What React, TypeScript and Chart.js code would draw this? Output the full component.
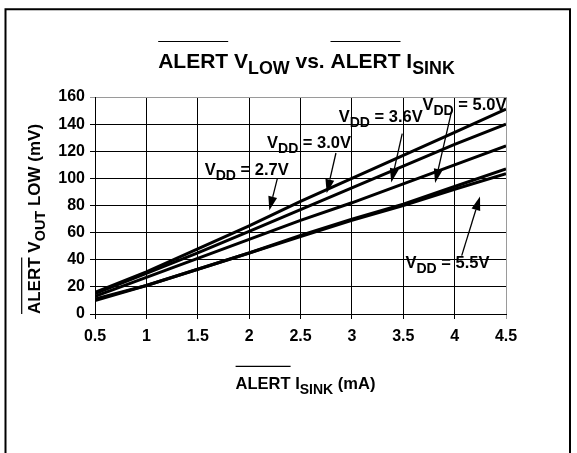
import React, { useEffect, useRef } from 'react';
import { Chart, registerables } from 'chart.js';

Chart.register(...registerables);

// ---------- data ----------
const currents = [0.5, 1, 1.5, 2, 2.5, 3, 3.5, 4, 4.5];
const vdd27 = [16, 31, 48, 65, 83, 100, 117, 134, 151];
const vdd30 = [15, 30, 45, 61, 77, 93, 109, 125, 140];
const vdd36 = [13, 27, 41, 55, 69, 82, 96, 110, 124];
const vdd50 = [11, 21, 33, 45, 58, 70, 81, 94, 107];
const vdd55 = [10, 21, 33, 45, 57, 69, 80, 92, 103.5];
const seriesNames = ['2.7V', '3.0V', '3.6V', '5.0V', '5.5V'];

const xTicks = [0.5, 1, 1.5, 2, 2.5, 3, 3.5, 4, 4.5];
const xTickLabels = ['0.5', '1', '1.5', '2', '2.5', '3', '3.5', '4', '4.5'];
const yTicks = [0, 20, 40, 60, 80, 100, 120, 140, 160];
const yTickLabels = ['0', '20', '40', '60', '80', '100', '120', '140', '160'];

// callouts in data coordinates: label centre, arrow start, arrow tip
const calloutVdd = ['2.7V', '3.0V', '3.6V', '5.0V', '5.5V'];
const calloutLabelX = [1.976, 2.583, 3.28, 4.096, 3.93];
const calloutLabelY = [106.4, 126.7, 145.7, 154.6, 38];
const arrowFromX = [2.274, 2.845, 3.49, 3.97, 4.069];
const arrowFromY = [99.6, 118.7, 133, 149.4, 43];
const arrowToX = [2.196, 2.755, 3.383, 3.81, 4.247];
const arrowToY = [76.4, 89, 97, 96.6, 86.7];

const FONT = '"Liberation Sans", Arial, Helvetica, sans-serif';

type Part = { t: string; sub?: boolean; over?: boolean };

function drawRich(
  ctx: CanvasRenderingContext2D,
  parts: Part[],
  x: number,
  baseline: number,
  size: number,
  overY: number | null
) {
  const subSize = size * 0.85;
  const widths = parts.map((p) => {
    ctx.font = `bold ${p.sub ? subSize : size}px ${FONT}`;
    return ctx.measureText(p.t).width;
  });
  const total = widths.reduce((a, b) => a + b, 0);
  let cx = x - total / 2;
  ctx.fillStyle = '#000';
  ctx.strokeStyle = '#000';
  ctx.textAlign = 'left';
  ctx.textBaseline = 'alphabetic';
  parts.forEach((p, i) => {
    ctx.font = `bold ${p.sub ? subSize : size}px ${FONT}`;
    ctx.fillText(p.t, cx, baseline + (p.sub ? size * 0.3 : 0));
    if (p.over && overY !== null) {
      ctx.lineWidth = 1.2;
      ctx.beginPath();
      ctx.moveTo(cx, overY);
      ctx.lineTo(cx + widths[i], overY);
      ctx.stroke();
    }
    cx += widths[i];
  });
}

const decorPlugin = {
  id: 'decor',
  beforeDraw(chart: any) {
    const ctx: CanvasRenderingContext2D = chart.ctx;
    ctx.save();
    ctx.fillStyle = '#fff';
    ctx.fillRect(0, 0, chart.width, chart.height);
    // frame
    ctx.strokeStyle = '#000';
    ctx.lineWidth = 2;
    ctx.beginPath();
    ctx.moveTo(5.5, chart.height + 2);
    ctx.lineTo(5.5, 9.2);
    ctx.lineTo(570, 9.2);
    ctx.lineTo(570, chart.height + 2);
    ctx.stroke();
    ctx.restore();
  },
  afterDraw(chart: any) {
    const ctx: CanvasRenderingContext2D = chart.ctx;
    const area = chart.chartArea;
    const xs = chart.scales.x;
    const ys = chart.scales.y;
    ctx.save();
    // title
    const cxPlot = (area.left + area.right) / 2;
    drawRich(
      ctx,
      [
        { t: 'ALERT', over: true },
        { t: ' V' },
        { t: 'LOW', sub: true },
        { t: ' vs. ' },
        { t: 'ALERT', over: true },
        { t: ' I' },
        { t: 'SINK', sub: true },
      ],
      cxPlot + 6,
      68,
      21,
      41.5
    );
    // x title
    drawRich(
      ctx,
      [{ t: 'ALERT', over: true }, { t: ' I' }, { t: 'SINK', sub: true }, { t: ' (mA)' }],
      cxPlot + 5,
      389,
      16.5,
      366.3
    );
    // y title
    ctx.save();
    ctx.translate(40, 219);
    ctx.rotate(-Math.PI / 2);
    drawRich(
      ctx,
      [{ t: 'ALERT', over: true }, { t: ' V' }, { t: 'OUT', sub: true }, { t: ' LOW (mV)' }],
      0,
      0,
      17,
      -18.3
    );
    ctx.restore();

    // callouts
    calloutVdd.forEach((v, i) => {
      const lx = xs.getPixelForValue(calloutLabelX[i]);
      const ly = ys.getPixelForValue(calloutLabelY[i]);
      drawRich(ctx, [{ t: 'V' }, { t: 'DD', sub: true }, { t: ' = ' + v }], lx, ly + 5.8, 16.5, null);
      const x1 = xs.getPixelForValue(arrowFromX[i]);
      const y1 = ys.getPixelForValue(arrowFromY[i]);
      const x2 = xs.getPixelForValue(arrowToX[i]);
      const y2 = ys.getPixelForValue(arrowToY[i]);
      const ang = Math.atan2(y2 - y1, x2 - x1);
      const L = 14;
      const W = 4.5;
      const bx = x2 - L * Math.cos(ang);
      const by = y2 - L * Math.sin(ang);
      ctx.strokeStyle = '#000';
      ctx.lineWidth = 1.3;
      ctx.beginPath();
      ctx.moveTo(x1, y1);
      ctx.lineTo(bx, by);
      ctx.stroke();
      ctx.fillStyle = '#000';
      ctx.beginPath();
      ctx.moveTo(x2, y2);
      ctx.lineTo(bx + W * Math.sin(ang), by - W * Math.cos(ang));
      ctx.lineTo(bx - W * Math.sin(ang), by + W * Math.cos(ang));
      ctx.closePath();
      ctx.fill();
    });
    ctx.restore();
  },
};

export default function App() {
  const ref = useRef<HTMLCanvasElement | null>(null);

  useEffect(() => {
    if (!ref.current) return;
    const allSeries = [vdd27, vdd30, vdd36, vdd50, vdd55];
    const chart = new Chart(ref.current, {
      type: 'line',
      data: {
        datasets: allSeries.map((s, i) => ({
          label: 'VDD = ' + seriesNames[i],
          data: currents.map((c, j) => ({ x: c, y: s[j] })),
          borderColor: '#000',
          backgroundColor: '#000',
          borderWidth: 3,
          pointRadius: 0,
          fill: false,
          tension: 0,
        })),
      },
      options: {
        responsive: false,
        animation: false,
        layout: { padding: { left: 0, top: 97, right: 71, bottom: 99 } },
        plugins: {
          legend: { display: false },
          tooltip: { enabled: false },
          title: { display: false },
        },
        scales: {
          x: {
            type: 'linear',
            min: 0.5,
            max: 4.5,
            afterBuildTicks: (s: any) => {
              s.ticks = xTicks.map((v) => ({ value: v }));
            },
            afterFit: (s: any) => {
              s.height = 40;
            },
            ticks: {
              autoSkip: false,
              maxRotation: 0,
              padding: 8,
              color: '#000',
              font: { family: FONT, size: 16, weight: 'bold' },
              callback: (_v: any, i: number) => xTickLabels[i],
            },
            grid: {
              color: (c: any) => (c.tick && c.tick.value === 4.5 ? '#9a9a9a' : '#000'),
              lineWidth: 1,
              tickLength: 5,
              drawTicks: true,
            },
            border: { color: '#000', width: 1 },
          },
          y: {
            type: 'linear',
            min: 0,
            max: 160,
            afterBuildTicks: (s: any) => {
              s.ticks = yTicks.map((v) => ({ value: v }));
            },
            afterFit: (s: any) => {
              s.width = 95;
            },
            ticks: {
              autoSkip: false,
              padding: 5,
              color: '#000',
              font: { family: FONT, size: 16, weight: 'bold' },
              callback: (_v: any, i: number) => yTickLabels[i],
            },
            grid: {
              color: (c: any) => (c.tick && c.tick.value === 160 ? '#9a9a9a' : '#000'),
              lineWidth: 1,
              tickLength: 5,
              drawTicks: true,
            },
            border: { color: '#000', width: 1 },
          },
        },
      },
      plugins: [decorPlugin],
    } as any);
    return () => chart.destroy();
  }, []);

  return (
    <div style={{ position: 'absolute', left: 0, top: 0, width: 577, height: 453, background: '#fff' }}>
      <canvas ref={ref} width={577} height={453} style={{ display: 'block', width: 577, height: 453 }} />
    </div>
  );
}
